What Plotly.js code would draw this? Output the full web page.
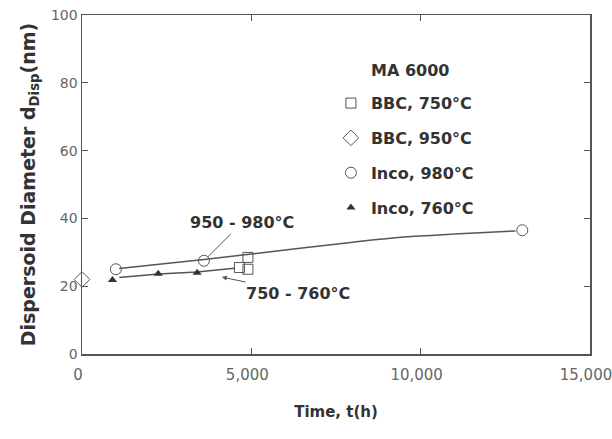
<!DOCTYPE html>
<html>
<head>
<meta charset="utf-8">
<script src="https://cdn.plot.ly/plotly-3.0.1.min.js"></script>
<style>html,body{margin:0;padding:0;background:#fff;}#chart{width:612px;height:439px;}</style>
</head>
<body>
<div id="chart"></div>
<script>
// Data
const bbc750X = [4650, 4900, 4900];
const bbc750Y = [25.5, 25.0, 28.5];
const bbc950X = [0];
const bbc950Y = [22];
const inco980X = [1000, 3600, 13000];
const inco980Y = [25.0, 27.5, 36.5];
const inco760X = [900, 2250, 3400];
const inco760Y = [21.8, 23.7, 24.0];
// trend curves drawn in the figure
const upperCurveX = [1100, 3600, 5000, 6500, 8000, 9500, 11000, 12800];
const upperCurveY = [25.2, 27.9, 29.5, 31.3, 33.0, 34.5, 35.4, 36.3];
const lowerLineX = [1100, 2250, 3400, 4500];
const lowerLineY = [22.6, 23.6, 24.2, 25.3];
const xTicks = [0, 5000, 10000, 15000];
const xTickText = ['0', '5,000', '10,000', '15,000'];
const yTicks = [0, 20, 40, 60, 80, 100];

const ink = '#333';
const fam = 'DejaVu Sans, Liberation Sans, Arial, sans-serif';
const traces = [
  {x: upperCurveX, y: upperCurveY, mode: 'lines', line: {color: '#555', width: 1.5, shape: 'spline'}, showlegend: false, hoverinfo: 'skip'},
  {x: lowerLineX, y: lowerLineY, mode: 'lines', line: {color: '#555', width: 1.5}, showlegend: false, hoverinfo: 'skip'},
  {x: bbc750X, y: bbc750Y, mode: 'markers', name: 'BBC, 750°C', legendgroup: 'a', cliponaxis: false,
   marker: {symbol: 'square-open', size: 10, color: '#555', line: {width: 1}}},
  {x: bbc950X, y: bbc950Y, mode: 'markers', name: 'BBC, 950°C', legendgroup: 'b', cliponaxis: false,
   marker: {symbol: 'diamond-open', size: 12, color: '#555', line: {width: 1}}},
  {x: inco980X, y: inco980Y, mode: 'markers', name: 'Inco, 980°C', legendgroup: 'c', cliponaxis: false,
   marker: {symbol: 'circle-open', size: 11, color: '#555', line: {width: 1}}},
  {x: inco760X, y: inco760Y, mode: 'markers', name: 'Inco, 760°C', legendgroup: 'd', cliponaxis: false,
   marker: {symbol: 'triangle-up', size: 8, color: '#333'}}
];

const layout = {
  width: 612, height: 439,
  paper_bgcolor: '#fff', plot_bgcolor: '#fff',
  margin: {l: 82, r: 22, t: 15, b: 85},
  font: {family: fam, color: ink},
  xaxis: {
    range: [0, 15000], tickvals: xTicks, ticktext: xTickText,
    ticks: 'inside', ticklen: 6, tickcolor: '#555', showline: true, linecolor: '#555', linewidth: 1.5,
    mirror: 'ticks', showgrid: false, zeroline: false, ticklabelstandoff: 6,
    ticklabeloverflow: 'allow', ticklabelshift: -4,
    tickfont: {size: 15, color: '#666', family: fam},
    title: {text: '<b>Time, t(h)</b>', font: {size: 15, color: ink, family: fam}, standoff: 24}
  },
  yaxis: {
    range: [0, 100], tickvals: yTicks,
    ticks: 'inside', ticklen: 6, tickcolor: '#555', showline: true, linecolor: '#555', linewidth: 1.5,
    mirror: 'ticks', showgrid: false, zeroline: false,
    tickfont: {size: 14, color: '#666', family: fam},
    title: {text: '<b>Dispersoid Diameter d<sub>Disp</sub>(nm)</b>', font: {size: 19, color: ink, family: fam}, standoff: 10}
  },
  legend: {
    x: 0.49, y: 0.79, xanchor: 'left', yanchor: 'top',
    bgcolor: 'rgba(0,0,0,0)', tracegroupgap: 11,
    font: {size: 16, color: ink, family: fam, weight: 'bold'}
  },
  annotations: [
    {xref: 'paper', yref: 'paper', x: 0.565, y: 0.835, xanchor: 'left', yanchor: 'middle',
     text: '<b>MA 6000</b>', showarrow: false, font: {size: 16, color: ink, family: fam}},
    {x: 3600, y: 27.5, ax: 38, ay: -38, text: '<b>950 - 980°C</b>',
     showarrow: true, arrowhead: 0, arrowwidth: 1, arrowcolor: '#555', standoff: 6,
     font: {size: 16, color: ink, family: fam}},
    {x: 4130, y: 22.7, ax: 76, ay: 16, text: '<b>750 - 760°C</b>',
     showarrow: true, arrowhead: 2, arrowsize: 1, arrowwidth: 1, arrowcolor: '#555', standoff: 0,
     font: {size: 16, color: ink, family: fam}}
  ]
};

Plotly.newPlot('chart', traces, layout, {displayModeBar: false, staticPlot: true});
</script>
</body>
</html>
